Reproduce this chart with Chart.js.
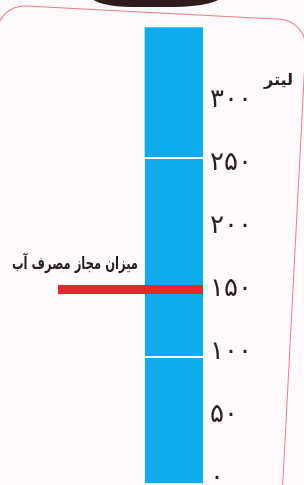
<!DOCTYPE html>
<html lang="fa">
<head>
<meta charset="utf-8">
<script src="https://cdn.jsdelivr.net/npm/chart.js@4.4.1/dist/chart.umd.min.js"></script>
<style>
    html, body { margin: 0; padding: 0; background: #fffafb; overflow: hidden; }
    #wrap { position: relative; width: 304px; height: 485px; overflow: hidden; }
    .frame {
        position: absolute; left: -2px; top: 4px; width: 308px; height: 640px;
        border: 1.5px solid #ee7b84; border-radius: 28px;
        transform: rotate(3deg); transform-origin: 0 0;
    }
    .lid {
        position: absolute; left: 92px; top: -23px; width: 131px; height: 30px;
        background: #2d1c1b; border-radius: 0 0 50px 40px / 0 0 12px 10px;
    }
    #chart { position: absolute; left: 0; top: 0; }
</style>
</head>
<body>
<div id="wrap">
    <div class="frame"></div>
    <div class="lid"></div>
    <canvas id="chart" width="304" height="506"></canvas>
</div>
<script>
// values (litres)
const categories = ['مصرف آب'];
const bandTops = [97, 255, 358];          // white separators at 97 and 255, bar top at 358
const limitValue = 150;
const limitLabel = 'میزان مجاز مصرف آب';
const unitLabel = 'لیتر';
const tickValues = [0, 50, 100, 150, 200, 250, 300];
const tickLabels = ['۰', '۵۰', '۱۰۰', '۱۵۰', '۲۰۰', '۲۵۰', '۳۰۰'];

const yMin = -4, yMax = 360;
const barX = 3;

// bar split into bands, each floating from the previous top
const bandSets = bandTops.map((top, i) => ({
    type: 'bar',
    label: categories[0],
    data: [{ x: barX, y: [i === 0 ? yMin : bandTops[i - 1], top] }],
    backgroundColor: '#0eacec',
    borderColor: '#ffffff',
    borderWidth: { top: i === bandTops.length - 1 ? 0 : 2, bottom: 0, left: 0, right: 0 },
    borderSkipped: false,
    barThickness: 58,
    grouped: false,
    order: 2
}));

const labelsPlugin = {
    id: 'labels',
    afterDatasetsDraw(chart) {
        const { ctx, scales: { y } } = chart;
        const bar = chart.getDatasetMeta(0).data[0];
        ctx.save();
        ctx.fillStyle = '#2a1f20';
        ctx.textAlign = 'right';
        ctx.textBaseline = 'middle';

        // threshold caption above the red line, squeezed like the condensed print face
        ctx.font = 'bold 17px "DejaVu Sans"';
        const right = bar.x - bar.width / 2 - 7;
        const w = ctx.measureText(limitLabel).width;
        const sx = Math.min(1, 126 / w);
        ctx.save();
        ctx.translate(right, y.getPixelForValue(limitValue) - 25);
        ctx.scale(sx, 1);
        ctx.fillText(limitLabel, 0, 0);
        ctx.restore();

        // unit at top of the axis
        ctx.font = 'bold 16px "DejaVu Sans"';
        ctx.fillText(unitLabel, chart.width - 11, y.getPixelForValue(tickValues[tickValues.length - 1]) - 20);
        ctx.restore();
    }
};

new Chart(document.getElementById('chart'), {
    data: {
        datasets: [
            ...bandSets,
            {
                type: 'line',
                label: limitLabel,
                data: [{ x: 1, y: limitValue }, { x: 3.5, y: limitValue }],
                borderColor: '#e8262d',
                borderWidth: 9,
                borderCapStyle: 'butt',
                pointRadius: 0,
                order: 0
            }
        ]
    },
    options: {
        responsive: false,
        animation: false,
        devicePixelRatio: 1,
        layout: { padding: { top: 25, left: 0, right: 0, bottom: 0 } },
        plugins: { legend: { display: false }, tooltip: { enabled: false } },
        scales: {
            x: { type: 'linear', min: 0, max: 3.5, offset: false, display: false },
            y: {
                position: 'right',
                min: yMin,
                max: yMax,
                afterFit: s => { s.width = 101; },
                afterBuildTicks: s => { s.ticks = tickValues.map(v => ({ value: v })); },
                grid: { display: false, drawTicks: false },
                border: { display: false },
                ticks: {
                    padding: 7,
                    color: '#2a1f20',
                    font: { family: '"DejaVu Sans"', size: 26 },
                    callback: v => tickLabels[tickValues.indexOf(v)]
                }
            }
        }
    },
    plugins: [labelsPlugin]
});
</script>
</body>
</html>
